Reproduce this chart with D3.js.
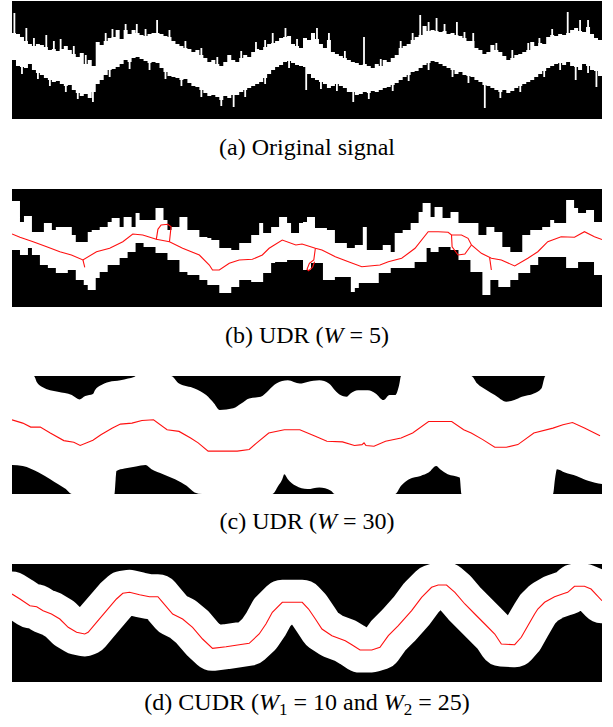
<!DOCTYPE html>
<html>
<head>
<meta charset="utf-8">
<script src="https://cdn.jsdelivr.net/npm/d3@7"></script>
<style>
    body { margin: 0; background: #fff; }
    svg { display: block; }
    .cap { font-family: "Liberation Serif", "Times New Roman", serif; font-size: 24px; fill: #000; }
</style>
</head>
<body>
<div id="chart"></div>
<script>
// (a) original signal: upper / lower level of the white trace per column
const sigHi = [86,85,82,78,75,73,75,74,72,69, 70,68,70,73,69,65,62,66,55,59,
    53,77,74,78,81,82,89,80,89,85, 89,86,84,83,85,86,86,85,83,82,
    78,75,73,71,70,67,69,64,61,57, 59,55,53,57,64,59,57,61,64,62,
    67,70,69,72,75,76,78,81,82,83, 75,73,71,81,79,86,80,75,71,79,
    67,65,63,61,59,57,56,54,55,53, 51,55,53,59,57,61,64,71,73,75,
    79,82,84,93,88,89,88,87,88,85, 86,84,83,81,78,78,71,69,65,67,
    74,69,67,63,59,61,64,65,67,69, 77,73,76,75,82,84,83,85,84,86,
    89,91,88,87,92,85,81,79];
const sigLo = [59,53,52,51,55,49,46,44,41,39, 37,38,35,33,34,29,26,23,25,21,
    27,35,39,44,49,50,52,55,59,57, 61,62,60,58,56,57,56,51,47,43,
    42,41,39,40,36,33,32,29,26,23, 24,22,19,23,21,24,24,27,29,31,
    33,35,37,41,45,49,52,54,57,58, 56,54,53,52,45,41,39,37,35,31,
    33,35,33,31,27,27,24,25,27,26, 28,27,29,31,32,34,36,39,42,44,
    47,48,51,54,56,58,57,55,53,51, 49,45,47,44,43,42,39,37,34,33,
    31,29,27,29,26,28,31,33,35,37, 39,42,45,48,51,53,55,56,54,57,
    53,52,49,55,53,49,48,43];
// thin spikes of the trace [column, level]
const sigSpikes = [[0.6,106],[3.6,91],[8.6,84],[12.2,80],[25.2,90],[31.3,95],[36.4,99],[61.2,77],
    [65.4,86],[68.6,91],[76.5,91],[88.3,82],[102.4,104],[104.5,97],[106.5,101],[111.6,97],[115.7,86],
    [132.3,81],[139.4,107],[142.5,99],
    [5.5,81],[10.5,78],[15.5,73],[18.5,64],[23.5,86],[28.5,95],[33.5,90],[39.5,89],[43.5,78],[47.5,71],
    [51.5,62],[57.5,68],[63.5,79],[71.5,80],[79.5,86],[83.5,68],[92.5,60],[97.5,78],[100.5,86],
    [108.5,95],[113.5,87],[121.5,76],[125.5,69],[129.5,76],[135.5,90],[144.5,99],
    [20.3,17],[55.6,12],[73.8,29],[85.6,17],[118.6,11],[141.4,39],[146.6,32],
    [2.5,45],[6.5,40],[9.5,33],[13.5,27],[16.5,20],[24.5,42],[29.5,50],[34.5,49],[38.5,40],[42.5,33],
    [47.5,22],[52.5,13],[58.5,22],[63.5,35],[69.5,51],[77.5,30],[81.5,28],[89.5,20],[95.5,28],
    [99.5,38],[104.5,49],[110.5,42],[114.5,36],[122.5,21],[127.5,27],[133.5,42],[137.5,49],[144.5,46]];

// (b) UDR W=5 envelopes per column
const udr5Hi = [106,106,85,91,91,75,75,75,84,84, 77,80,80,80,80,72,65,65,65,75,
    77,77,80,80,85,89,89,80,90,90, 80,94,87,87,87,87,99,99,87,77,
    80,80,90,90,77,77,77,70,70,69, 67,67,59,59,59,57,57,64,64,64,
    72,72,84,74,74,80,80,90,90,84, 74,74,84,85,90,90,79,79,79,77,
    77,64,64,64,59,59,62,62,80,57, 57,57,57,62,62,55,74,74,77,77,
    84,84,95,104,104,90,100,100,89,89, 95,95,84,84,84,84,84,72,72,80,
    80,75,75,60,60,55,55,55,72,72, 77,77,77,80,80,87,84,84,84,107,
    107,99,94,94,97,97,85,85];
const udr5Lo = [57,57,52,52,59,52,52,42,42,39, 39,34,34,34,37,37,27,27,22,17,
    17,29,35,35,42,42,42,49,49,55, 55,64,64,60,60,60,54,54,54,47,
    47,47,35,35,32,32,32,27,27,22, 22,22,14,14,14,20,20,27,27,27,
    25,25,25,34,34,44,45,45,45,47, 47,47,47,37,37,44,44,44,27,27,
    27,30,30,30,30,15,19,24,24,24, 24,24,34,34,34,39,39,39,39,39,
    39,45,45,45,59,55,55,60,60,60, 57,57,47,47,47,35,35,35,12,12,
    27,27,20,20,20,27,27,34,34,34, 42,42,50,50,50,50,50,50,50,39,
    39,39,45,45,45,45,32,32];
// (b) centre line [column, level] and its small branches
const udr5Line = [[0,73],[2,69.7],[5.3,65.3],[8.7,60.3],[12,55.3],[14.9,52],[17.8,47],[21.2,55.3],
    [24.5,58.7],[27.8,65.3],[30.3,73],[32.8,72],[36.2,67.7],[39.5,65.3],[42.8,58.7],[47,52],
    [49.5,42],[50.3,37],[52,37],[54.5,43.7],[57,47],[60.3,47.7],[62.8,52],[64.5,58.7],[67.8,67],
    [71.2,62],[72.75,63],[76.1,58.7],[77.75,57],[81.1,50.3],[84.4,45.3],[87.75,40.3],[92.3,42],
    [94.4,45.3],[97.75,48.7],[101.1,58.7],[104.4,75.3],[106.9,75.3],[109.4,74.7],[110.25,72],
    [112.75,72],[114.4,68.7],[115.25,62],[117.75,53.7],[120.25,48.7],[122.75,47],[126.1,41],
    [129.4,48.7],[131.9,55.3],[134.4,65.3],[137.75,70.3],[141.1,69.7],[143.6,75.3],[146.1,70.3],[148,67.5]];
const udr5Branches = [
    [[36.2,67.7],[36.6,77.7],[37.4,82],[39.1,82.7],[39.9,80.3],[39.5,65.3]],
    [[17.8,47],[18.25,39.7]],
    [[76.1,58.7],[75.7,47],[74.6,43.7],[74,37.7],[74.4,36.3],[75.4,39.7],[75.9,45.3]],
    [[110.25,72],[110.4,60.3],[111.9,52],[113.6,53],[115.25,62]],
    [[119.8,49.7],[120.25,37]]
];

// (c) UDR W=30: top and bottom edge of the white band, centre line
const udr30Top = [[0,118],[5.5,118],[6.2,112.1],[7.6,107.1],[11.5,102.2],[15,98.9],[16.9,94.6],[18.4,97.9],
    [20.3,99.9],[20.8,103.8],[22.3,108.8],[24.3,112.1],[27.2,113.7],[29.1,115.4],[30.6,117],[31.1,118],
    [39.9,118],[41.9,110.4],[45.8,105.5],[48.7,98.9],[50.7,90.6],[52.1,84.1],[55.5,85.7],[57.5,90.6],
    [59.5,95.6],[62.4,97.2],[64.4,103.8],[66.3,110.4],[69.2,113.7],[72.2,110.4],[74.1,112.1],[77.1,113.7],
    [79.5,110.4],[81,103.8],[82.4,98.9],[83.9,97.2],[84.9,100.5],[86.8,103.8],[89.3,103.8],[91.2,100.5],
    [93.2,93.9],[94.7,98.9],[96.1,98.9],[97.1,108.8],[97.6,118],[115.2,118],[116.7,110.4],[119.1,103.8],
    [121.1,98.9],[124,92.3],[126,93.9],[127.9,97.2],[130.9,100.5],[132.8,105.5],[133.8,118],[148,118]];
const udr30Bottom = [[0,29],[2.7,28],[6.7,21.4],[9.6,14.8],[11.5,9.9],[13.5,4.9],[15,0],[25.7,0],[26,14.8],
    [26.2,23.1],[28.2,25.4],[31.1,27.4],[33.5,29],[35,24.7],[37.9,19.8],[40.9,14.8],[43.8,8.2],[45.8,1.6],
    [47.7,0],[65.3,0],[66.8,8.2],[67.8,14.8],[68.3,19.8],[69.2,14.8],[71.2,8.2],[74.1,4.9],[77.1,6.6],
    [80,3.3],[81,0],[96.1,0],[97.6,8.2],[99.6,14.8],[102.5,18.1],[104.5,21.4],[106.4,28],[107.4,24.7],
    [109.3,19.8],[112.3,16.5],[112.8,0],[135.7,0],[136.2,14.8],[136.7,24.7],[138.7,21.4],[141.6,18.1],
    [144.5,13.2],[148,9.9]];
const udr30Line = [[0,74.2],[2.7,70.9],[4.7,66.9],[7.1,66.9],[9.6,61],[13,53.4],[15.5,51.8],[17.1,48.5],
    [20.3,53.7],[22.3,59.3],[25.2,65.9],[27.2,69.9],[30.1,70.9],[32.6,73.5],[35.5,74.2],[38.9,64.3],
    [41.9,62.6],[44.8,56],[46.7,51.1],[49.2,42.9],[56.5,42.9],[59.5,44.5],[61.4,51.1],[64.4,61],
    [68.3,64.3],[72.2,64.3],[76.1,57.7],[79,52.7],[82.9,52.1],[85.9,48.5],[87.8,49.4],[88.3,51.1],
    [88.8,48.5],[90.8,47.8],[93.7,52.7],[97.6,56],[100.5,61],[104.5,72.5],[110.3,72.5],[113.3,64.3],
    [115.2,61],[118.1,54.4],[121.1,46.8],[124,46.8],[126.9,49.4],[130.9,61],[135.7,65.9],[138.2,69.2],
    [140.6,71.5],[143.6,65.9],[147.5,58.3]];

// (d) CUDR centre line
const cudrLine = [[0,88],[2,83],[4.5,76.3],[6.2,75.3],[7.8,71.3],[9.9,68],[12,63],[14.1,54.7],[16.2,49.7],
    [18.25,48],[19.1,49.7],[21.2,59.7],[23.7,71.3],[26.2,83],[27.8,88.7],[29.5,89.7],[32,87.3],[34.5,85.3],
    [36.6,85.3],[37.8,79.7],[40.3,68],[42.8,63],[45.3,54.7],[47.8,43],[50.3,33.7],[53.7,35.3],[57,37.3],
    [59.5,38.7],[62,48],[63.7,58],[65.3,69.7],[67.8,79.7],[72.8,79.7],[74.4,73],[76.1,63],[77.75,53],
    [80.25,46.3],[83.6,41.3],[85.25,37.3],[87.3,32],[90.25,32],[92.3,34.7],[94.4,46.3],[96.9,56.3],
    [100.25,71.3],[102.75,84.7],[105.25,94.7],[106.9,97],[109,97],[111.1,89.7],[113.6,78],[116.1,68],
    [118.6,58],[121.1,48],[122.75,38],[126.1,37.3],[127.75,44.7],[129.4,56.3],[131.1,68],[131.9,73],
    [133.6,79.7],[136.1,85.3],[138.6,88.7],[139.4,89.7],[141.1,95.7],[143.6,95.7],[145.25,93],[148,81.3]];

const captions = ["(a) Original signal", "(b) UDR (", "(c) UDR (", "(d) CUDR ("];

const width = 613, height = 727;
const svg = d3.select("#chart").append("svg")
    .attr("width", width)
    .attr("height", height);

const nCols = sigHi.length;
let x = d3.scaleLinear().domain([0, nCols]).range([12, 602]);
const panelTops = [1, 189, 376, 564];
const panelH = 118;
const red = "#ff1010";

function makePanel(k) {
    let top = panelTops[k];
    svg.append("clipPath").attr("id", "clip" + k)
        .append("rect")
        .attr("x", x(0)).attr("y", top)
        .attr("width", x(nCols) - x(0)).attr("height", panelH);
    let g = svg.append("g").attr("clip-path", "url(#clip" + k + ")");
    g.append("rect")
        .attr("x", x(0)).attr("y", top)
        .attr("width", x(nCols) - x(0)).attr("height", panelH)
        .attr("fill", "#000");
    let y = d3.scaleLinear().domain([0, 118]).range([top + panelH, top]);
    return {g: g, y: y};
}

function stepBand(hi, lo, y) {
    // one extra index closes the last step
    return d3.area()
        .curve(d3.curveStepAfter)
        .x(function (i) { return x(i); })
        .y0(function (i) { return y(lo[Math.min(i, lo.length - 1)]); })
        .y1(function (i) { return y(hi[Math.min(i, hi.length - 1)]); })(d3.range(hi.length + 1));
}

function redLine(y) {
    return d3.line()
        .x(function (d) { return x(d[0]); })
        .y(function (d) { return y(d[1]); });
}

// (a)
let pa = makePanel(0);
pa.g.append("path")
    .attr("d", stepBand(sigHi, sigLo, pa.y))
    .attr("fill", "#fff");
pa.g.selectAll(".spike")
    .data(sigSpikes)
    .enter()
    .append("rect")
    .attr("class", "spike")
    .attr("x", function (d) { return x(d[0]) - 0.9; })
    .attr("width", 1.8)
    .attr("y", function (d) {
        let c = Math.floor(d[0]);
        return pa.y(Math.max(d[1], (sigHi[c] + sigLo[c]) / 2));
    })
    .attr("height", function (d) {
        let c = Math.floor(d[0]);
        return Math.abs(pa.y(d[1]) - pa.y((sigHi[c] + sigLo[c]) / 2));
    })
    .attr("fill", "#fff");

// (b)
let pb = makePanel(1);
pb.g.append("path")
    .attr("d", stepBand(udr5Hi, udr5Lo, pb.y))
    .attr("fill", "#fff");
pb.g.selectAll(".branch")
    .data([udr5Line].concat(udr5Branches))
    .enter()
    .append("path")
    .attr("d", redLine(pb.y))
    .attr("fill", "none")
    .attr("stroke", red)
    .attr("stroke-width", 1.1);

// (c)
let pc = makePanel(2);
pc.g.append("rect")
    .attr("x", x(0)).attr("y", panelTops[2])
    .attr("width", x(nCols) - x(0)).attr("height", panelH)
    .attr("fill", "#fff");
pc.g.append("path")
    .attr("d", d3.area().curve(d3.curveMonotoneX)
        .x(function (d) { return x(d[0]); })
        .y0(pc.y(118))
        .y1(function (d) { return pc.y(d[1]); })(udr30Top))
    .attr("fill", "#000");
pc.g.append("path")
    .attr("d", d3.area().curve(d3.curveMonotoneX)
        .x(function (d) { return x(d[0]); })
        .y0(pc.y(0))
        .y1(function (d) { return pc.y(d[1]); })(udr30Bottom))
    .attr("fill", "#000");
pc.g.append("path")
    .attr("d", redLine(pc.y)(udr30Line))
    .attr("fill", "none")
    .attr("stroke", red)
    .attr("stroke-width", 1.1);

// (d) band = the centre line dilated by a disc
let pd = makePanel(3);
pd.g.append("path")
    .attr("d", redLine(pd.y)(cudrLine))
    .attr("fill", "none")
    .attr("stroke", "#fff")
    .attr("stroke-width", 45)
    .attr("stroke-linejoin", "round")
    .attr("stroke-linecap", "round");
pd.g.append("path")
    .attr("d", redLine(pd.y)(cudrLine))
    .attr("fill", "none")
    .attr("stroke", red)
    .attr("stroke-width", 1.1);

// captions
const capBase = [155, 342.5, 529, 710];
function caption(k) {
    return svg.append("text")
        .attr("class", "cap")
        .attr("x", 307)
        .attr("y", capBase[k])
        .attr("text-anchor", "middle")
        .text(captions[k]);
}
caption(0);
[["5", 1], ["30", 2]].forEach(function (p) {
    let t = caption(p[1]);
    t.append("tspan").attr("font-style", "italic").text("W");
    t.append("tspan").text(" = " + p[0] + ")");
});
let td = caption(3);
td.append("tspan").attr("font-style", "italic").text("W");
td.append("tspan").attr("font-size", 17).attr("dy", 4.5).text("1");
td.append("tspan").attr("dy", -4.5).text(" = 10 and ");
td.append("tspan").attr("font-style", "italic").text("W");
td.append("tspan").attr("font-size", 17).attr("dy", 4.5).text("2");
td.append("tspan").attr("dy", -4.5).text(" = 25)");
</script>
</body>
</html>
